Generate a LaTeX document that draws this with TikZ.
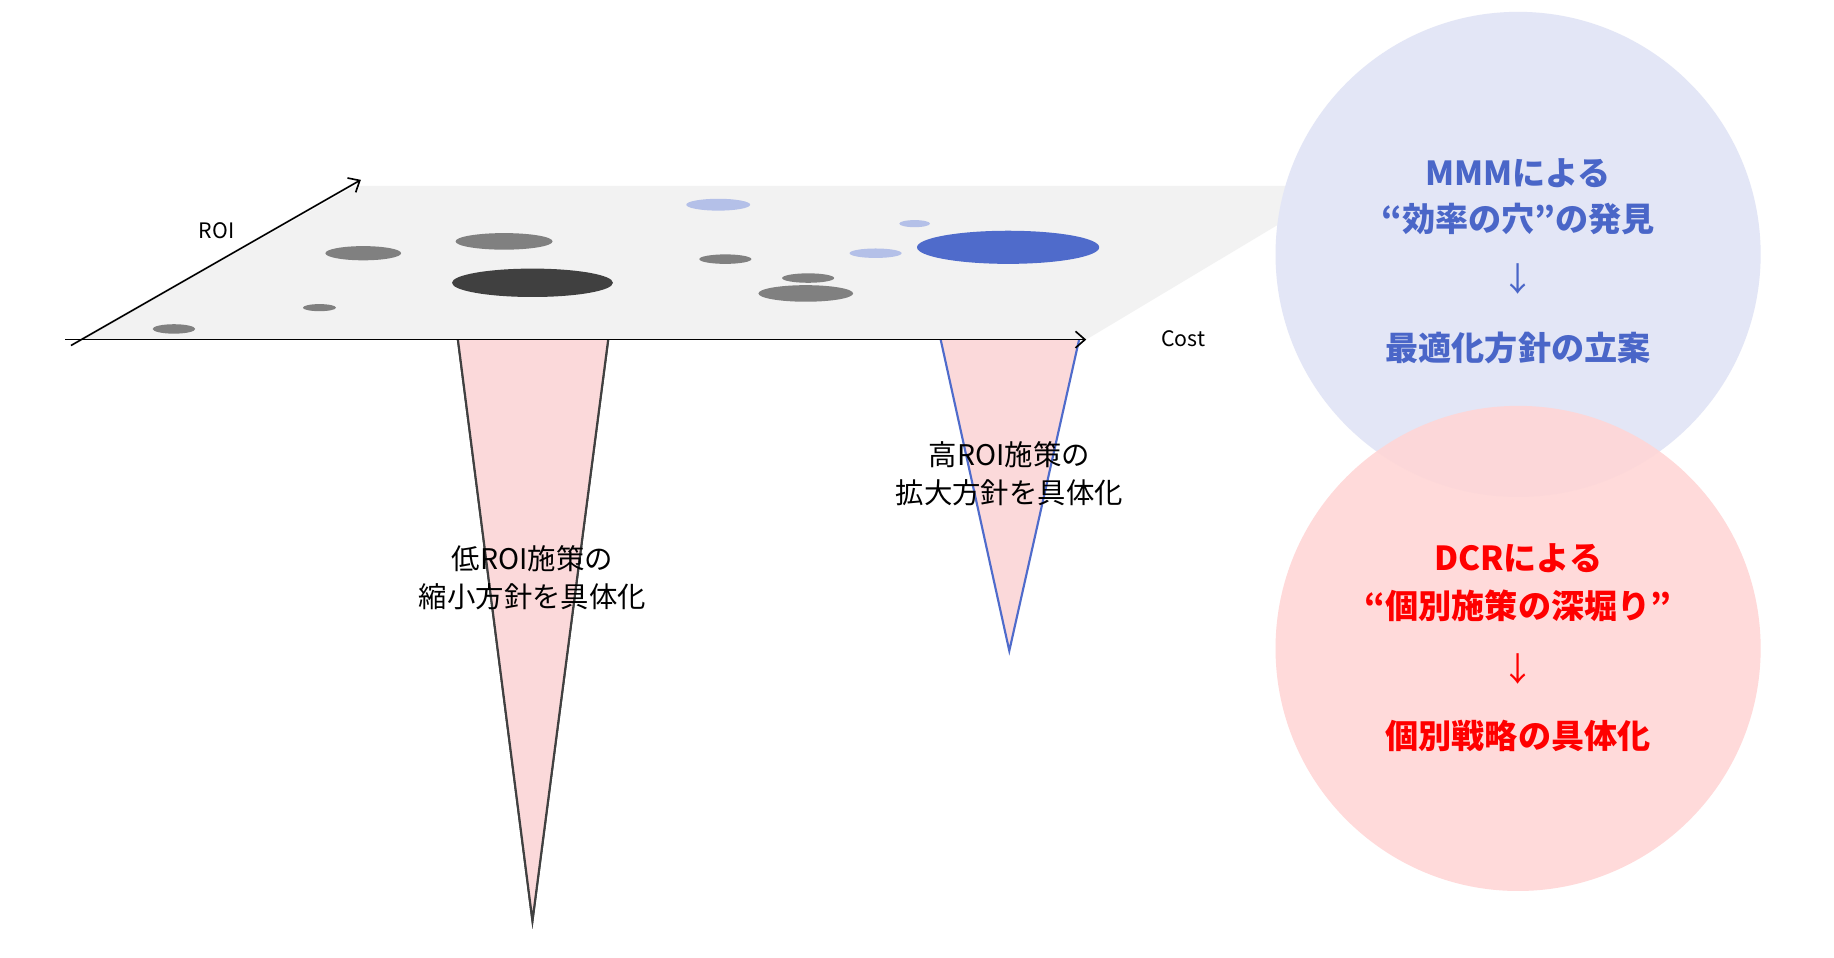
\documentclass[tikz,border=0pt]{standalone}
\usepackage{fontspec}
\setmainfont{Noto Sans CJK JP}
\usetikzlibrary{fadings,arrows.meta}
\pgfdeclareradialshading{fuzzshade}{\pgfpoint{0bp}{0bp}}{color(0bp)=(white); color(30bp)=(white); color(50bp)=(black); color(100bp)=(black)}
\pgfdeclarefading{fuzz}{\pgfuseshading{fuzzshade}}
\definecolor{dotgray}{HTML}{808080}
\definecolor{dotdark}{HTML}{404040}
\definecolor{lblue}{HTML}{B4C0E8}
\definecolor{mblue}{HTML}{4F6BCB}
\definecolor{tblue}{HTML}{4A66C8}
\definecolor{tpink}{HTML}{FBD9DA}
\definecolor{cblue}{HTML}{E3E6F6}
\definecolor{cred}{HTML}{FFD6D6}
\begin{document}
\begin{tikzpicture}[x=0.5pt,y=-0.5pt,
  axis/.style={-{Straight Barb[length=4pt,width=7pt]},line width=0.7pt},
  small/.style={font=\fontsize{9}{11}\selectfont},
  tri/.style={font=\fontsize{12}{16}\selectfont,align=center},
  big/.style={font=\bfseries\fontsize{14}{17}\selectfont}]
\useasboundingbox (0,0) rectangle (1550,809);
\fill[white] (0,0) rectangle (1550,809);
% plane
\fill[gray!10] (70,287) -- (300,157) -- (1135,157) -- (918,287) -- cycle;
% dots
\fill[dotgray] (147,278) ellipse (18 and 4);
\fill[dotgray] (270,260) ellipse (14 and 3);
\fill[dotgray] (307,214) ellipse (32 and 6);
\fill[dotgray] (426,204) ellipse (41 and 7);
\fill[dotdark] (450,239) ellipse (68 and 12);
\fill[lblue] (607,173) ellipse (27 and 5);
\fill[dotgray] (613,219) ellipse (22 and 4);
\fill[dotgray] (683,235) ellipse (22 and 4);
\fill[dotgray] (681,248) ellipse (40 and 7);
\fill[lblue] (740,214) ellipse (22 and 4);
\fill[lblue] (773,189) ellipse (13 and 3);
\fill[mblue] (852,209) ellipse (77 and 14);
% triangles
\coordinate (l1) at (387,287); \coordinate (l2) at (514,287); \coordinate (l3) at (450,778);
\coordinate (r1) at (795,287); \coordinate (r2) at (912,287); \coordinate (r3) at (853,550);
\filldraw[fill=tpink,draw=dotdark,line width=0.9pt] (l1) -- (l3) -- (l2);
\fill[tpink] (l1) -- (l3) -- (l2) -- cycle;
\draw[dotdark,line width=0.9pt] (l1) -- (l3) -- (l2);
\fill[tpink] (r1) -- (r3) -- (r2) -- cycle;
\draw[mblue,line width=0.9pt] (r1) -- (r3) -- (r2);
% axes
\coordinate (o1) at (55,287); \coordinate (ce) at (918,287);
\coordinate (o2) at (60,292); \coordinate (re) at (305,152);
\draw[axis] (o1) -- (ce);
\draw[axis] (o2) -- (re);
\node[small] (roi) at (183,195) {ROI};
\node[small] (cost) at (1000,286) {Cost};
\node[tri] (hi) at (853,400) {高ROI施策の\\拡大方針を具体化};
\node[tri] (lo) at (450,488) {低ROI施策の\\縮小方針を具体化};
% circles
\fill[cblue,path fading=fuzz] (1283,215) circle (205);
\fill[cred,path fading=fuzz,opacity=0.9] (1283,548) circle (205);
\node[big,text=tblue] (m1) at (1283,146) {MMMによる};
\node[big,text=tblue] (m2) at (1283,185) {“効率の穴”の発見};
\node[big,text=tblue,font=\fontsize{14}{17}\selectfont] (m3) at (1283,236) {↓};
\node[big,text=tblue] (m4) at (1283,294) {最適化方針の立案};
\node[big,text=red] (d1) at (1283,472) {DCRによる};
\node[big,text=red] (d2) at (1283,512) {“個別施策の深堀り”};
\node[big,text=red,font=\fontsize{14}{17}\selectfont] (d3) at (1283,565) {↓};
\node[big,text=red] (d4) at (1283,622) {個別戦略の具体化};
\end{tikzpicture}
\end{document}
